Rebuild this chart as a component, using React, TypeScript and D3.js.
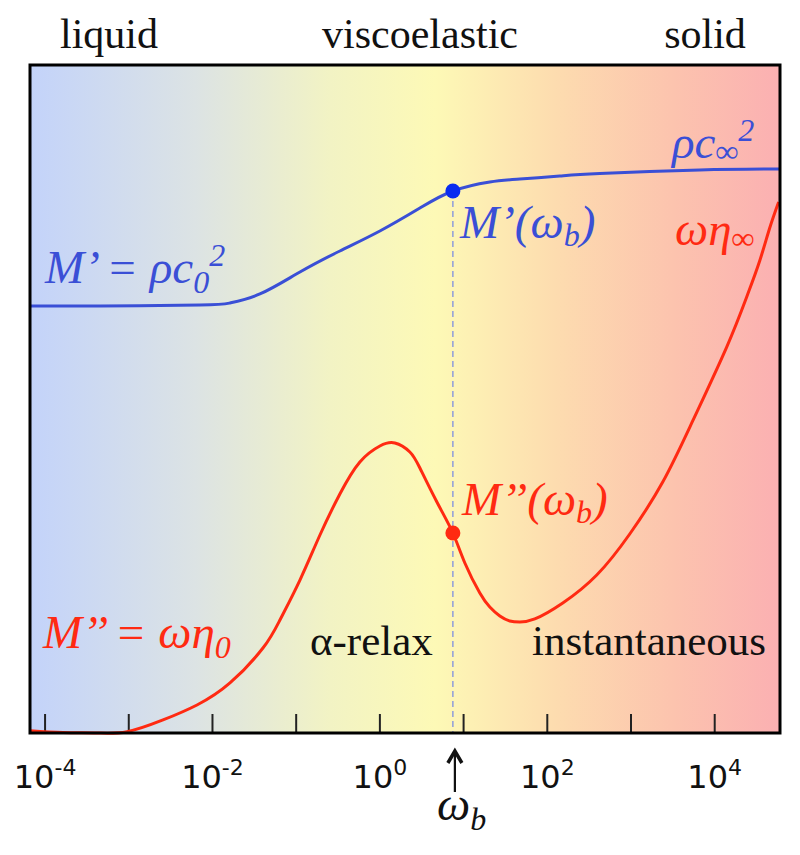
import React from "react";
import * as d3 from "d3";

// log10(omega) exponents and modulus values (arbitrary units, 0..100)
const blueLogOmega = [-4.179, -3.343, -2.149, -1.791, -1.433, -0.955, -0.478, 0.0, 0.478, 0.872, 1.313, 1.672, 2.149, 2.627, 3.821, 4.776];
const blueValues = [63.92, 63.92, 64.07, 64.37, 65.72, 69.01, 72.16, 75.15, 78.59, 81.14, 82.49, 82.93, 83.38, 83.76, 84.28, 84.43];

const redLogOmega = [-4.179, -3.785, -3.379, -3.021, -2.591, -2.185, -1.791, -1.397, -1.194, -0.955, -0.716, -0.478, -0.239, 0.0, 0.179, 0.358, 0.478, 0.681, 0.872, 1.015, 1.194, 1.313, 1.433, 1.552, 1.672, 1.851, 2.185, 2.591, 2.985, 3.379, 3.737, 4.143, 4.382, 4.537, 4.657, 4.764];
const redValues = [0.34, 0.07, 0.0, 0.19, 1.95, 4.19, 7.49, 12.72, 16.92, 22.9, 29.64, 35.78, 40.57, 42.96, 43.41, 42.07, 39.67, 34.58, 29.94, 25.45, 20.96, 18.86, 17.51, 16.77, 16.62, 17.07, 19.46, 23.65, 29.79, 37.57, 46.71, 57.78, 65.27, 70.66, 75.6, 79.49];

const omegaBLog = 0.872;
const blueAtB = 81.14;
const redAtB = 29.94;

const tickExponents = [-4, -3, -2, -1, 0, 1, 2, 3, 4];
const labelExponents = [-4, -2, 0, 2, 4];
const regionLabels = ["liquid", "viscoelastic", "solid"];

const L = 30, R = 780, T = 65, B = 733;
const SERIF = "Liberation Serif, Times New Roman, DejaVu Serif, serif";
const SANS = "DejaVu Sans, Verdana, sans-serif";
const BLUE = "#3a4fd6";
const RED = "#ff2a12";

export default function App() {
  const x = d3.scaleLog().domain([10 ** -4.18, 10 ** 4.78]).range([L, R]);
  const y = d3.scaleLinear().domain([0, 100]).range([B, T]);
  const line = d3
    .line<[number, number]>()
    .x((d) => x(10 ** d[0]))
    .y((d) => y(d[1]))
    .curve(d3.curveNatural);
  const blueData: [number, number][] = blueLogOmega.map((e, i) => [e, blueValues[i]]);
  const redData: [number, number][] = redLogOmega.map((e, i) => [e, redValues[i]]);
  const xb = x(10 ** omegaBLog);

  const regionX = [109, 420, 705];
  const serif = { fontFamily: SERIF };
  const serifIt = { fontFamily: SERIF, fontStyle: "italic" as const };
  const FS = 47;
  const SUB = 32;

  return (
    <svg width={800} height={855} style={{ position: "absolute", left: 0, top: 0 }}>
      <defs>
        <linearGradient id="bg" x1="0" x2="1" y1="0" y2="0">
          <stop offset="0" stopColor="#c3d3fa" />
          <stop offset="0.22" stopColor="#dce3e4" />
          <stop offset="0.4" stopColor="#f2f3c4" />
          <stop offset="0.54" stopColor="#fdf9b6" />
          <stop offset="0.7" stopColor="#fddcaf" />
          <stop offset="0.86" stopColor="#fcc3ae" />
          <stop offset="1" stopColor="#fbb0b2" />
        </linearGradient>
      </defs>
      <rect x={L} y={T} width={R - L} height={B - T} fill="url(#bg)" />

      {regionLabels.map((t, i) => (
        <text key={t} x={regionX[i]} y={48} textAnchor="middle" style={serif} fontSize={42} fill="#111">
          {t}
        </text>
      ))}

      {tickExponents.map((e) => (
        <line key={e} x1={x(10 ** e)} x2={x(10 ** e)} y1={B} y2={B - 19} stroke="#222" strokeWidth={2} />
      ))}

      <line x1={xb} x2={xb} y1={y(blueAtB)} y2={B} stroke="#7d8fe0" strokeWidth={1.3} strokeDasharray="6,4" />

      <path d={line(blueData) || ""} fill="none" stroke={BLUE} strokeWidth={3} />
      <path d={line(redData) || ""} fill="none" stroke={RED} strokeWidth={3} />
      <circle cx={xb} cy={y(blueAtB)} r={7.5} fill="#0a2cf0" />
      <circle cx={xb} cy={y(redAtB)} r={7.5} fill="#ff2a12" />

      <rect x={L} y={T} width={R - L} height={B - T} fill="none" stroke="#000" strokeWidth={3} />

      {labelExponents.map((e) => (
        <text key={e} x={x(10 ** e)} y={788} textAnchor="middle" style={{ fontFamily: SANS }} fontSize={32} fill="#111">
          10
          <tspan fontSize={22} dy={-13}>{String(e)}</tspan>
        </text>
      ))}

      <line x1={xb + 2} x2={xb + 2} y1={792} y2={753} stroke="#111" strokeWidth={2.2} />
      <path d={`M${xb + 2 - 7},${763} L${xb + 2},${751} L${xb + 2 + 7},${763}`} fill="none" stroke="#111" strokeWidth={3.5} />
      <text x={437} y={820} style={serifIt} fontSize={FS} fill="#111">
        ω<tspan fontSize={SUB} dy={10}>b</tspan>
      </text>

      <text x={45} y={283} style={serifIt} fontSize={FS} fill={BLUE}>
        M’ = ρc<tspan fontSize={SUB} dy={10}>0</tspan>
        <tspan fontSize={SUB} dy={-27}>2</tspan>
      </text>
      <text x={672} y={158} style={serifIt} fontSize={FS} fill={BLUE}>
        ρc<tspan fontSize={SUB} dy={4}>∞</tspan>
        <tspan fontSize={SUB} dy={-21}>2</tspan>
      </text>
      <text x={460} y={238} style={serifIt} fontSize={FS} fill={BLUE}>
        M’(ω<tspan fontSize={SUB} dy={8}>b</tspan>
        <tspan dy={-8}>)</tspan>
      </text>

      <text x={675} y={245} style={serifIt} fontSize={FS} fill={RED}>
        ωη<tspan fontSize={SUB} dy={4}>∞</tspan>
      </text>
      <text x={462} y={515} style={serifIt} fontSize={FS} fill={RED}>
        M’’(ω<tspan fontSize={SUB} dy={8}>b</tspan>
        <tspan dy={-8}>)</tspan>
      </text>
      <text x={43} y={648} style={serifIt} fontSize={FS} fill={RED}>
        M’’ = ωη<tspan fontSize={SUB} dy={10}>0</tspan>
      </text>

      <text x={310} y={655} style={serif} fontSize={43} fill="#111">α-relax</text>
      <text x={532} y={655} style={serif} fontSize={43} fill="#111">instantaneous</text>
    </svg>
  );
}
